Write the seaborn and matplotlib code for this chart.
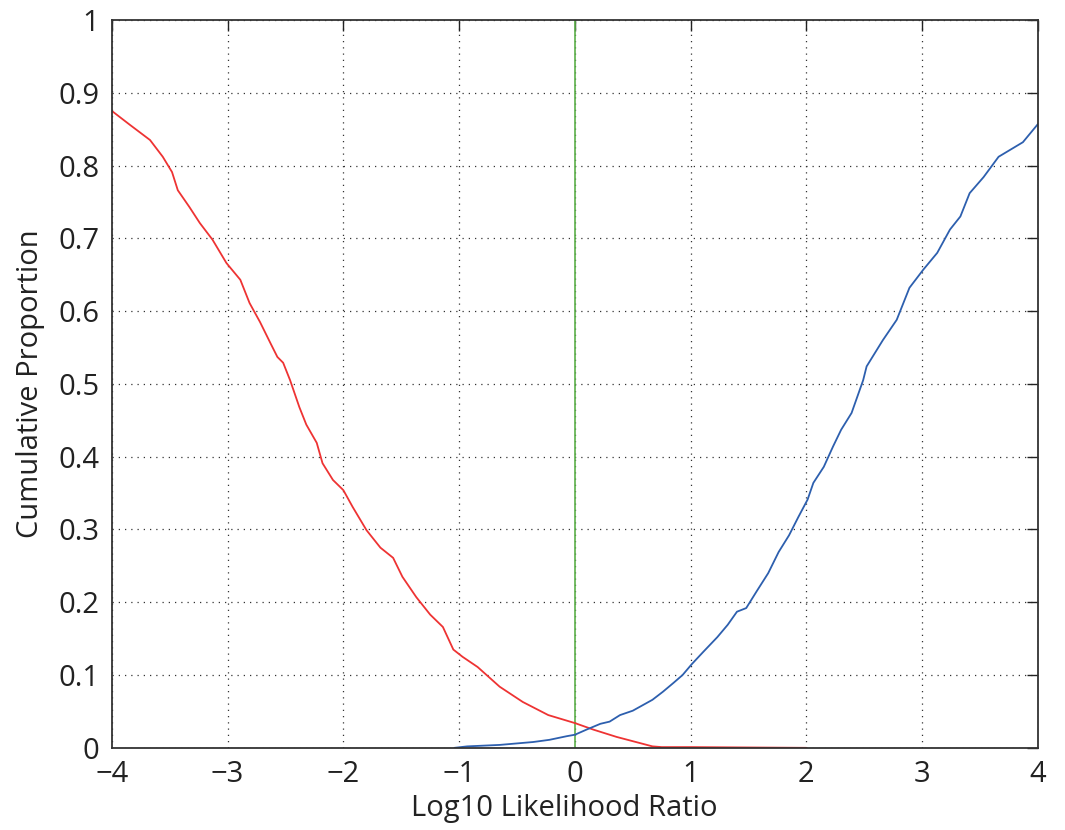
import pandas as pd
import seaborn as sns
from matplotlib import pyplot as plt

# red curve (decreasing)
red_x = [-4.0, -3.845, -3.67, -3.56, -3.48, -3.43, -3.33, -3.24, -3.13, -3.01, -2.89, -2.81, -2.72, -2.63,
         -2.57, -2.52, -2.46, -2.38, -2.32, -2.23, -2.18, -2.09, -2.0, -1.92, -1.80, -1.68, -1.57, -1.49,
         -1.37, -1.25, -1.14, -1.05, -0.97, -0.84, -0.65, -0.45, -0.23, 0.0, 0.16, 0.36, 0.67, 0.75, 1.0,
         1.5, 2.0]
red_y = [0.875, 0.856, 0.835, 0.812, 0.791, 0.766, 0.743, 0.721, 0.698, 0.666, 0.643, 0.611, 0.585, 0.556,
         0.537, 0.529, 0.505, 0.468, 0.444, 0.419, 0.391, 0.368, 0.354, 0.331, 0.299, 0.275, 0.261, 0.235,
         0.207, 0.183, 0.166, 0.135, 0.125, 0.111, 0.084, 0.063, 0.045, 0.034, 0.025, 0.015, 0.002, 0.001,
         0.001, 0.0005, 0.0]

# blue curve (increasing)
blue_x = [-1.04, -0.93, -0.65, -0.36, -0.22, -0.07, 0.0, 0.10, 0.22, 0.30, 0.39, 0.50, 0.67, 0.76, 0.85,
          0.93, 1.01, 1.11, 1.23, 1.32, 1.40, 1.48, 1.57, 1.67, 1.76, 1.85, 1.93, 2.01, 2.06, 2.15, 2.23,
          2.30, 2.39, 2.49, 2.52, 2.66, 2.78, 2.89, 3.01, 3.13, 3.24, 3.33, 3.41, 3.53, 3.66, 3.87, 4.0]
blue_y = [0.0, 0.002, 0.004, 0.008, 0.011, 0.016, 0.018, 0.025, 0.033, 0.036, 0.045, 0.051, 0.066, 0.077,
          0.089, 0.100, 0.115, 0.132, 0.152, 0.169, 0.187, 0.192, 0.215, 0.240, 0.269, 0.292, 0.317, 0.341,
          0.364, 0.386, 0.414, 0.437, 0.460, 0.505, 0.524, 0.56, 0.588, 0.632, 0.657, 0.68, 0.712, 0.73,
          0.762, 0.784, 0.812, 0.832, 0.857]

threshold = 0.0
x_ticks = [-4, -3, -2, -1, 0, 1, 2, 3, 4]
y_ticks = [0, 0.1, 0.2, 0.3, 0.4, 0.5, 0.6, 0.7, 0.8, 0.9, 1]
y_labels = ['0', '0.1', '0.2', '0.3', '0.4', '0.5', '0.6', '0.7', '0.8', '0.9', '1']

sns.set_style("white")
plt.rcParams['font.family'] = ['Open Sans', 'DejaVu Sans']

df_red = pd.DataFrame({'x': red_x, 'y': red_y})
df_blue = pd.DataFrame({'x': blue_x, 'y': blue_y})

fig = plt.figure(figsize=(10.65, 8.3), dpi=100)
ax = fig.add_axes([0.105, 0.099, 0.8696, 0.877])

ax.axvline(threshold, color='#5cb04a', lw=1.2, zorder=2)
sns.lineplot(data=df_red, x='x', y='y', ax=ax, color='#ee3333', lw=1.3, sort=False, estimator=None)
sns.lineplot(data=df_blue, x='x', y='y', ax=ax, color='#2d5fae', lw=1.3, sort=False, estimator=None)

ax.set_xlim(-4, 4)
ax.set_ylim(0, 1)
ax.set_xticks(x_ticks)
ax.set_yticks(y_ticks)
ax.set_yticklabels(y_labels)
ax.grid(True, color='#333333', linestyle=(0, (1, 4)), lw=0.9)
ax.tick_params(direction='in', length=8, width=1, top=True, right=True, labelsize=21,
               colors='#222222', pad=9)
for s in ax.spines.values():
    s.set_color('#333333')
    s.set_linewidth(1.3)

ax.set_xlabel('Log10 Likelihood Ratio', fontsize=21, color='#222222')
ax.set_ylabel('Cumulative Proportion', fontsize=21, color='#222222')
ax.xaxis.set_label_coords(0.489, -0.063)
ax.yaxis.set_label_coords(-0.072, 0.5)

fig.savefig('out.png', dpi=100)
